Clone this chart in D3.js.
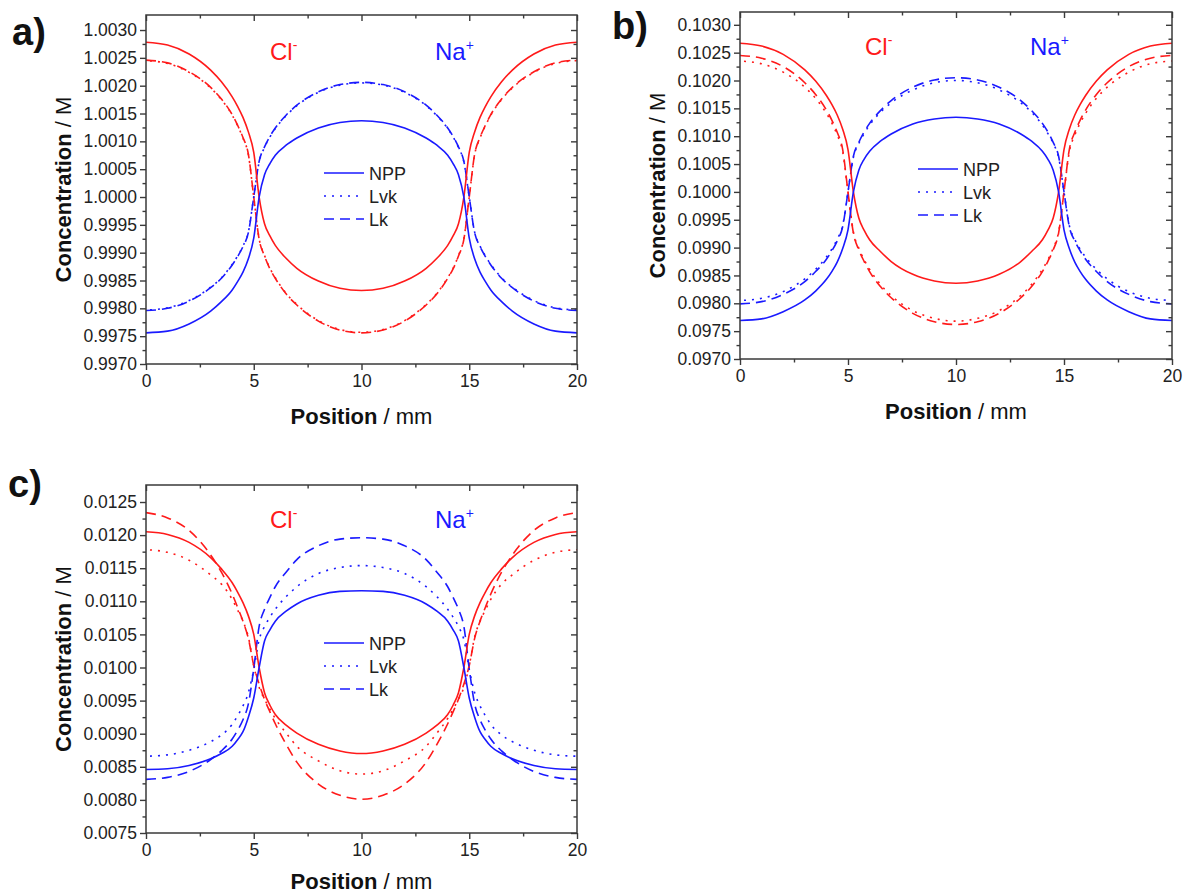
<!DOCTYPE html>
<html>
<head>
<meta charset="utf-8">
<script src="https://cdn.jsdelivr.net/npm/d3@7"></script>
<style>
  body { margin: 0; background: #fff; }
  svg { display: block; font-family: "Liberation Sans", Arial, sans-serif; }
</style>
</head>
<body>
<svg id="fig" width="1183" height="896"></svg>
<script>
// Position along the cell (mm), shared by every profile
const positionMm = [0, 1, 2, 3, 3.5, 4, 4.25, 4.5, 4.75, 5, 5.25, 5.5, 5.75, 6, 6.5, 7, 8, 9, 10,
  11, 12, 13, 13.5, 14, 14.25, 14.5, 14.75, 15, 15.25, 15.5, 15.75, 16, 16.5, 17, 18, 19, 20];
const xTicks = [0, 5, 10, 15, 20];

// Panel a) — 1 M
const aNppCl = [1.00278, 1.00273, 1.00257, 1.00228, 1.00207, 1.00180, 1.00163, 1.00143, 1.00117, 1.00080, 1.00000, 0.99952, 0.99930, 0.99913, 0.99890, 0.99872, 0.99849, 0.99836, 0.99832,
  0.99836, 0.99849, 0.99872, 0.99890, 0.99913, 0.99930, 0.99952, 1.00000, 1.00080, 1.00117, 1.00143, 1.00163, 1.00180, 1.00207, 1.00228, 1.00257, 1.00273, 1.00278];
const aNppNa = [0.99756, 0.99759, 0.99772, 0.99795, 0.99812, 0.99833, 0.99848, 0.99865, 0.99889, 0.99926, 1.00000, 1.00040, 1.00060, 1.00075, 1.00093, 1.00106, 1.00124, 1.00134, 1.00137,
  1.00134, 1.00124, 1.00106, 1.00093, 1.00075, 1.00060, 1.00040, 1.00000, 0.99926, 0.99889, 0.99865, 0.99848, 0.99833, 0.99812, 0.99795, 0.99772, 0.99759, 0.99756];
const aLvkCl = [1.00245, 1.00240, 1.00224, 1.00196, 1.00175, 1.00147, 1.00128, 1.00106, 1.00076, 1.00000, 0.99925, 0.99895, 0.99872, 0.99855, 0.99827, 0.99807, 0.99778, 0.99762, 0.99757,
  0.99762, 0.99778, 0.99807, 0.99827, 0.99855, 0.99872, 0.99895, 0.99925, 1.00000, 1.00076, 1.00106, 1.00128, 1.00147, 1.00175, 1.00196, 1.00224, 1.00240, 1.00245];
const aLvkNa = [0.99797, 0.99801, 0.99814, 0.99838, 0.99855, 0.99879, 0.99894, 0.99912, 0.99937, 1.00000, 1.00063, 1.00089, 1.00108, 1.00123, 1.00146, 1.00164, 1.00188, 1.00201, 1.00205,
  1.00201, 1.00188, 1.00164, 1.00146, 1.00123, 1.00108, 1.00089, 1.00063, 1.00000, 0.99937, 0.99912, 0.99894, 0.99879, 0.99855, 0.99838, 0.99814, 0.99801, 0.99797];
const aLkCl = [1.00246, 1.00241, 1.00225, 1.00197, 1.00176, 1.00148, 1.00129, 1.00107, 1.00077, 1.00000, 0.99924, 0.99894, 0.99871, 0.99854, 0.99826, 0.99806, 0.99777, 0.99761, 0.99756,
  0.99761, 0.99777, 0.99806, 0.99826, 0.99854, 0.99871, 0.99894, 0.99924, 1.00000, 1.00077, 1.00107, 1.00129, 1.00148, 1.00176, 1.00197, 1.00225, 1.00241, 1.00246];
const aLkNa = [0.99796, 0.99800, 0.99813, 0.99837, 0.99854, 0.99878, 0.99893, 0.99911, 0.99936, 1.00000, 1.00064, 1.00090, 1.00109, 1.00124, 1.00147, 1.00165, 1.00189, 1.00202, 1.00206,
  1.00202, 1.00189, 1.00165, 1.00147, 1.00124, 1.00109, 1.00090, 1.00064, 1.00000, 0.99936, 0.99911, 0.99893, 0.99878, 0.99854, 0.99837, 0.99813, 0.99800, 0.99796];
const aYTicks = [0.9970, 0.9975, 0.9980, 0.9985, 0.9990, 0.9995, 1.0000, 1.0005, 1.0010, 1.0015, 1.0020, 1.0025, 1.0030];

// Panel b) — 0.1 M
const bNppCl = [0.10267, 0.10262, 0.10247, 0.10219, 0.10199, 0.10173, 0.10157, 0.10138, 0.10113, 0.10076, 0.10000, 0.09953, 0.09931, 0.09914, 0.09893, 0.09875, 0.09852, 0.09840, 0.09836,
  0.09840, 0.09852, 0.09875, 0.09893, 0.09914, 0.09931, 0.09953, 0.10000, 0.10076, 0.10113, 0.10138, 0.10157, 0.10173, 0.10199, 0.10219, 0.10247, 0.10262, 0.10267];
const bNppNa = [0.09769, 0.09772, 0.09785, 0.09806, 0.09822, 0.09843, 0.09857, 0.09874, 0.09898, 0.09932, 0.10000, 0.10039, 0.10059, 0.10073, 0.10091, 0.10104, 0.10122, 0.10131, 0.10134,
  0.10131, 0.10122, 0.10104, 0.10091, 0.10073, 0.10059, 0.10039, 0.10000, 0.09932, 0.09898, 0.09874, 0.09857, 0.09843, 0.09822, 0.09806, 0.09785, 0.09772, 0.09769];
const bLvkCl = [0.10235, 0.10230, 0.10215, 0.10188, 0.10168, 0.10141, 0.10124, 0.10102, 0.10073, 0.10000, 0.09928, 0.09899, 0.09878, 0.09861, 0.09834, 0.09814, 0.09787, 0.09773, 0.09768,
  0.09773, 0.09787, 0.09814, 0.09834, 0.09861, 0.09878, 0.09899, 0.09928, 0.10000, 0.10073, 0.10102, 0.10124, 0.10141, 0.10168, 0.10188, 0.10215, 0.10230, 0.10235];
const bLvkNa = [0.09805, 0.09809, 0.09821, 0.09844, 0.09861, 0.09883, 0.09897, 0.09915, 0.09939, 0.10000, 0.10062, 0.10087, 0.10105, 0.10120, 0.10143, 0.10160, 0.10183, 0.10196, 0.10200,
  0.10196, 0.10183, 0.10160, 0.10143, 0.10120, 0.10105, 0.10087, 0.10062, 0.10000, 0.09939, 0.09915, 0.09897, 0.09883, 0.09861, 0.09844, 0.09821, 0.09809, 0.09805];
const bLkCl = [0.10245, 0.10240, 0.10225, 0.10196, 0.10175, 0.10147, 0.10129, 0.10107, 0.10077, 0.10000, 0.09926, 0.09896, 0.09875, 0.09857, 0.09830, 0.09810, 0.09782, 0.09767, 0.09762,
  0.09767, 0.09782, 0.09810, 0.09830, 0.09857, 0.09875, 0.09896, 0.09926, 0.10000, 0.10077, 0.10107, 0.10129, 0.10147, 0.10175, 0.10196, 0.10225, 0.10240, 0.10245];
const bLkNa = [0.09799, 0.09803, 0.09816, 0.09839, 0.09857, 0.09879, 0.09894, 0.09912, 0.09937, 0.10000, 0.10064, 0.10089, 0.10108, 0.10123, 0.10146, 0.10164, 0.10188, 0.10201, 0.10205,
  0.10201, 0.10188, 0.10164, 0.10146, 0.10123, 0.10108, 0.10089, 0.10064, 0.10000, 0.09937, 0.09912, 0.09894, 0.09879, 0.09857, 0.09839, 0.09816, 0.09803, 0.09799];
const bYTicks = [0.0970, 0.0975, 0.0980, 0.0985, 0.0990, 0.0995, 0.1000, 0.1005, 0.1010, 0.1015, 0.1020, 0.1025, 0.1030];

// Panel c) — 0.01 M
const cNppCl = [0.01205, 0.01201, 0.01189, 0.01166, 0.01149, 0.01128, 0.01114, 0.01098, 0.01078, 0.01050, 0.01000, 0.00962, 0.00943, 0.00929, 0.00913, 0.00901, 0.00884, 0.00874, 0.00870,
  0.00874, 0.00884, 0.00901, 0.00913, 0.00929, 0.00943, 0.00962, 0.01000, 0.01050, 0.01078, 0.01098, 0.01114, 0.01128, 0.01149, 0.01166, 0.01189, 0.01201, 0.01205];
const cNppNa = [0.00846, 0.00847, 0.00852, 0.00862, 0.00870, 0.00881, 0.00891, 0.00903, 0.00925, 0.00954, 0.01000, 0.01040, 0.01057, 0.01070, 0.01085, 0.01096, 0.01109, 0.01115, 0.01116,
  0.01115, 0.01109, 0.01096, 0.01085, 0.01070, 0.01057, 0.01040, 0.01000, 0.00954, 0.00925, 0.00903, 0.00891, 0.00881, 0.00870, 0.00862, 0.00852, 0.00847, 0.00846];
const cLvkCl = [0.01178, 0.01174, 0.01162, 0.01140, 0.01126, 0.01103, 0.01087, 0.01070, 0.01046, 0.01003, 0.00970, 0.00952, 0.00937, 0.00923, 0.00901, 0.00881, 0.00859, 0.00844, 0.00839,
  0.00844, 0.00859, 0.00881, 0.00901, 0.00923, 0.00937, 0.00952, 0.00970, 0.01003, 0.01046, 0.01070, 0.01087, 0.01103, 0.01126, 0.01140, 0.01162, 0.01174, 0.01178];
const cLvkNa = [0.00866, 0.00868, 0.00875, 0.00888, 0.00898, 0.00914, 0.00927, 0.00942, 0.00962, 0.00997, 0.01042, 0.01062, 0.01076, 0.01088, 0.01107, 0.01122, 0.01142, 0.01151, 0.01154,
  0.01151, 0.01142, 0.01122, 0.01107, 0.01088, 0.01076, 0.01062, 0.01042, 0.00997, 0.00962, 0.00942, 0.00927, 0.00914, 0.00898, 0.00888, 0.00875, 0.00868, 0.00866];
const cLkCl = [0.01234, 0.01226, 0.01207, 0.01170, 0.01144, 0.01111, 0.01091, 0.01070, 0.01044, 0.01003, 0.00975, 0.00952, 0.00933, 0.00915, 0.00884, 0.00857, 0.00824, 0.00807, 0.00801,
  0.00807, 0.00824, 0.00857, 0.00884, 0.00915, 0.00933, 0.00952, 0.00975, 0.01003, 0.01044, 0.01070, 0.01091, 0.01111, 0.01144, 0.01170, 0.01207, 0.01226, 0.01234];
const cLkNa = [0.00831, 0.00834, 0.00843, 0.00861, 0.00874, 0.00892, 0.00905, 0.00921, 0.00945, 0.00998, 0.01062, 0.01088, 0.01106, 0.01122, 0.01144, 0.01163, 0.01184, 0.01194, 0.01196,
  0.01194, 0.01184, 0.01163, 0.01144, 0.01122, 0.01106, 0.01088, 0.01062, 0.00998, 0.00945, 0.00921, 0.00905, 0.00892, 0.00874, 0.00861, 0.00843, 0.00834, 0.00831];
const cYTicks = [0.0075, 0.0080, 0.0085, 0.0090, 0.0095, 0.0100, 0.0105, 0.0110, 0.0115, 0.0120, 0.0125];

const models = ["NPP", "Lvk", "Lk"];
// dotted dots fall into the dash gaps where the two profiles coincide
const modelDash = { NPP: null, Lvk: "2,6", Lk: "10,6" };
const modelDashOffset = { NPP: 0, Lvk: 4, Lk: 0 };
const RED = "#ff1a1a", BLUE = "#1a1aff", AXIS = "#3a3a3a", INK = "#222";

const panels = [
  { letter: "a)", letterXY: [12, 45], box: { l: 146, r: 577, t: 15, b: 364 }, yMax: 1.00327,
    yTicks: aYTicks, ylabelX: 71, ionY: 60, clX: 270, naX: 435, legend: [324, 173],
    series: { NPP: [aNppCl, aNppNa], Lvk: [aLvkCl, aLvkNa], Lk: [aLkCl, aLkNa] } },
  { letter: "b)", letterXY: [612, 39], box: { l: 740, r: 1172, t: 12, b: 359 }, yMax: 0.10323,
    yTicks: bYTicks, ylabelX: 665, ionY: 55, clX: 865, naX: 1030, legend: [918, 169],
    series: { NPP: [bNppCl, bNppNa], Lvk: [bLvkCl, bLvkNa], Lk: [bLkCl, bLkNa] } },
  { letter: "c)", letterXY: [8, 497], box: { l: 146, r: 577, t: 485, b: 833 }, yMax: 0.012757,
    yTicks: cYTicks, ylabelX: 71, ionY: 528, clX: 270, naX: 435, legend: [324, 643],
    series: { NPP: [cNppCl, cNppNa], Lvk: [cLvkCl, cLvkNa], Lk: [cLkCl, cLkNa] } }
];

const svg = d3.select("#fig");
const fmt = d3.format(".4f");

function midpoints(arr) {
  const out = [];
  for (let i = 0; i < arr.length - 1; i++) out.push((arr[i] + arr[i + 1]) / 2);
  return out;
}

function styleAxis(g) {
  g.select(".domain").remove();
  g.selectAll(".tick line").attr("stroke", AXIS).attr("stroke-width", 1.4);
  g.selectAll(".tick text").attr("fill", INK).attr("font-size", 17.5)
    .attr("font-family", '"Liberation Sans", Arial, sans-serif');
}

panels.forEach(p => {
  const { l, r, t, b } = p.box;
  const x = d3.scaleLinear().domain([0, 20]).range([l, r]);
  const y = d3.scaleLinear().domain([p.yTicks[0], p.yMax]).range([b, t]);
  const g = svg.append("g");

  // concentration profiles
  const line = d3.line().x((d, i) => x(positionMm[i])).y(d => y(d)).curve(d3.curveMonotoneX);
  const clip = "clip" + p.letter[0];
  svg.append("clipPath").attr("id", clip).append("rect")
    .attr("x", l).attr("y", t).attr("width", r - l).attr("height", b - t);
  const curves = g.append("g").attr("clip-path", `url(#${clip})`);
  models.slice().reverse().forEach(m => {
    const [cl, na] = p.series[m];
    [[cl, RED], [na, BLUE]].forEach(([vals, col]) => {
      curves.append("path").datum(vals).attr("d", line)
        .attr("fill", "none").attr("stroke", col).attr("stroke-width", 1.6)
        .attr("stroke-dasharray", modelDash[m]).attr("stroke-dashoffset", modelDashOffset[m]);
    });
  });

  // axes: ticks outward on left/bottom, inward on top/right
  const minorX = midpoints(xTicks), minorY = midpoints(p.yTicks);
  g.append("g").attr("transform", `translate(0,${b})`)
    .call(d3.axisBottom(x).tickValues(xTicks).tickFormat(d3.format("d")).tickSize(6).tickPadding(5)).call(styleAxis);
  g.append("g").attr("transform", `translate(0,${b})`)
    .call(d3.axisBottom(x).tickValues(minorX).tickFormat("").tickSize(3.5)).call(styleAxis);
  g.append("g").attr("transform", `translate(${l},0)`)
    .call(d3.axisLeft(y).tickValues(p.yTicks).tickFormat(fmt).tickSize(6).tickPadding(3)).call(styleAxis);
  g.append("g").attr("transform", `translate(${l},0)`)
    .call(d3.axisLeft(y).tickValues(minorY).tickFormat("").tickSize(3.5)).call(styleAxis);
  g.append("g").attr("transform", `translate(0,${t})`)
    .call(d3.axisTop(x).tickValues(xTicks).tickFormat("").tickSize(-6)).call(styleAxis);
  g.append("g").attr("transform", `translate(0,${t})`)
    .call(d3.axisTop(x).tickValues(minorX).tickFormat("").tickSize(-3.5)).call(styleAxis);
  g.append("g").attr("transform", `translate(${r},0)`)
    .call(d3.axisRight(y).tickValues(p.yTicks).tickFormat("").tickSize(-6)).call(styleAxis);
  g.append("g").attr("transform", `translate(${r},0)`)
    .call(d3.axisRight(y).tickValues(minorY).tickFormat("").tickSize(-3.5)).call(styleAxis);
  g.append("rect").attr("x", l).attr("y", t).attr("width", r - l).attr("height", b - t)
    .attr("fill", "none").attr("stroke", AXIS).attr("stroke-width", 1.5);

  // axis titles
  const xt = g.append("text").attr("x", (l + r) / 2).attr("y", Math.min(b + 60, 889))
    .attr("text-anchor", "middle").attr("font-size", 22).attr("fill", "#111");
  xt.append("tspan").attr("font-weight", "bold").text("Position");
  xt.append("tspan").text(" / mm");
  const yt = g.append("text")
    .attr("transform", `translate(${p.ylabelX},${(t + b) / 2}) rotate(-90)`)
    .attr("text-anchor", "middle").attr("font-size", 22).attr("fill", "#111");
  yt.append("tspan").attr("font-weight", "bold").text("Concentration");
  yt.append("tspan").text(" / M");

  // panel letter
  g.append("text").attr("x", p.letterXY[0]).attr("y", p.letterXY[1])
    .attr("font-size", 38).attr("font-weight", "bold").attr("fill", "#111").text(p.letter);

  // ion labels
  const cl = g.append("text").attr("x", p.clX).attr("y", p.ionY).attr("font-size", 24).attr("fill", RED);
  cl.append("tspan").text("Cl");
  cl.append("tspan").attr("font-size", 14).attr("dy", -10).text("-");
  const na = g.append("text").attr("x", p.naX).attr("y", p.ionY).attr("font-size", 24).attr("fill", BLUE);
  na.append("tspan").text("Na");
  na.append("tspan").attr("font-size", 14).attr("dy", -10).text("+");

  // legend
  const [lx, ly] = p.legend;
  models.forEach((m, i) => {
    const yy = ly + i * 23;
    g.append("line").attr("x1", lx).attr("x2", lx + 40).attr("y1", yy).attr("y2", yy)
      .attr("stroke", BLUE).attr("stroke-width", 1.6).attr("stroke-dasharray", modelDash[m]);
    g.append("text").attr("x", lx + 45).attr("y", yy + 6.5).attr("font-size", 18).attr("fill", INK).text(m);
  });
});
</script>
</body>
</html>
